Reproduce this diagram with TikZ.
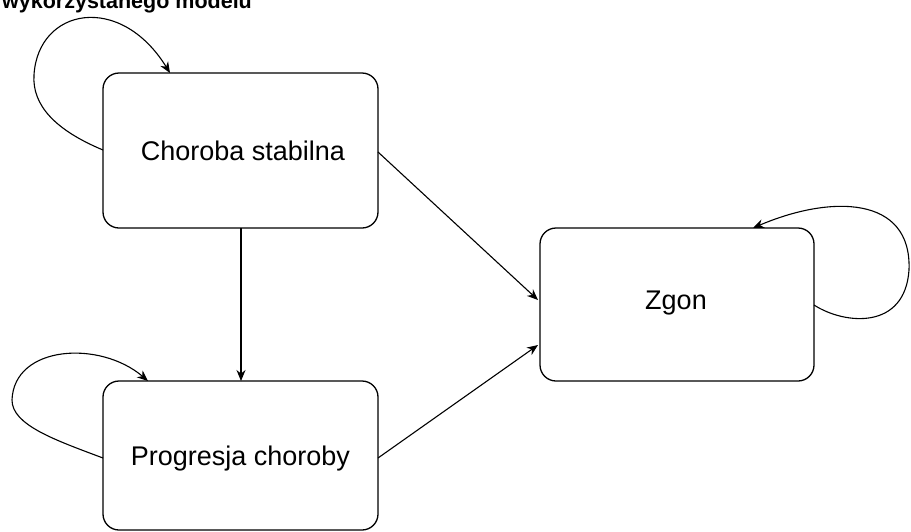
\documentclass[tikz,border=0pt]{standalone}
\usepackage{fontspec}
\setmainfont{Liberation Sans}
\usetikzlibrary{arrows.meta}
\begin{document}
\begin{tikzpicture}[x=1pt,y=-1pt,
  state/.style={draw=black, line width=1.3pt, rounded corners=16pt, fill=white},
  lbl/.style={font=\fontsize{27}{30}\selectfont},
  conn/.style={line width=1.1pt, -{Stealth[length=11pt,width=9pt]}}]
\useasboundingbox (0,0) rectangle (911,531);
\begin{scope}
\clip (0,0) rectangle (911,531);
\node[anchor=base west, inner sep=0pt, font=\bfseries\fontsize{21.5}{24}\selectfont] (title) at (2,8) {wykorzystanego modelu};
\draw[state] (103,73) rectangle (378,228);
\draw[state] (103,381) rectangle (378,530);
\draw[state] (540,228) rectangle (814,381);
\node[lbl] (cs) at (243,151) {Choroba stabilna};
\node[lbl] (pc) at (240.5,459) {Progresja choroby};
\node[lbl] (zg) at (676,303) {Zgon};
\coordinate (csB) at (241,228);
\coordinate (pcT) at (241,381);
\coordinate (csR) at (378,152);
\coordinate (zgL1) at (538,300);
\coordinate (pcR) at (378,458);
\coordinate (zgL2) at (538,345);
\coordinate (csL) at (103,150);
\coordinate (csT) at (170,73);
\coordinate (pcL) at (103,458);
\coordinate (pcTl) at (148,381);
\coordinate (zgR) at (814,305);
\coordinate (zgT) at (753,228);
\draw[conn] (csB) -- (pcT);
\draw[conn] (csR) -- (zgL1);
\draw[conn] (pcR) -- (zgL2);
\draw[conn] (csL) .. controls (55,130) and (32,105) .. (34,75) .. controls (38,8) and (120,-8) .. (csT);
\draw[conn] (pcL) .. controls (55,440) and (12,425) .. (12,400) .. controls (14,345) and (100,340) .. (pcTl);
\draw[conn] (zgR) .. controls (845,325) and (905,330) .. (909,270) .. controls (912,195) and (830,195) .. (zgT);
\end{scope}
\end{tikzpicture}
\end{document}
